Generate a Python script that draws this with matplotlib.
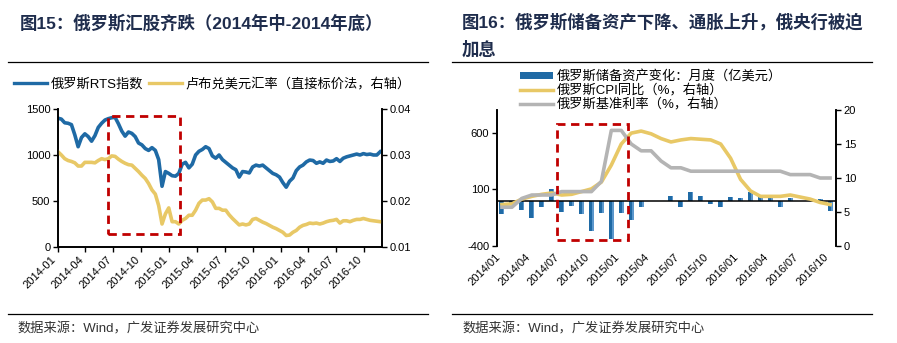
import matplotlib
matplotlib.use("Agg")
import matplotlib.pyplot as plt
import matplotlib.dates as mdates
from matplotlib.lines import Line2D
from matplotlib.patches import Rectangle, Patch
import numpy as np
import pandas as pd

plt.rcParams['font.family'] = ['Liberation Sans', 'Noto Sans CJK SC']
plt.rcParams['axes.unicode_minus'] = False

W, H = 897, 343
BLUE = '#1f6aa5'
BLUE_LIGHT = '#5b97cc'
YELLOW = '#e8c866'
GRAY = '#b4b4b4'
RED = '#c00000'
NAVY = '#1f2d4d'

# ---- left chart: RTS index and RUB/USD (read roughly every 11 days) ----
RTS_START = '2014-01-01'
RTS_STEP = '11D'
RTS_INDEX = [1400, 1390, 1350, 1345, 1330, 1220, 1090, 1190, 1230, 1200,
             1150, 1210, 1300, 1345, 1380, 1395, 1405, 1410, 1340, 1260,
             1205, 1250, 1235, 1200, 1130, 1110, 1070, 1050, 1080, 1050,
             950, 660, 820, 800, 775, 770, 800, 900, 920, 860,
             900, 1000, 1040, 1060, 1090, 1070, 990, 965, 1000, 950,
             920, 890, 860, 840, 760, 820, 815, 805, 870, 890,
             880, 890, 860, 830, 800, 785, 760, 700, 650, 715,
             750, 830, 870, 890, 925, 945, 940, 910, 925, 910,
             945, 930, 935, 960, 930, 965, 980, 990, 1000, 1010,
             1000, 1015, 1005, 1010, 1000, 1000, 1035]
RUB_USD = [0.0307, 0.0300, 0.0292, 0.0288, 0.0286, 0.0283, 0.0276, 0.0276, 0.0284, 0.0284,
           0.0284, 0.0283, 0.0288, 0.0292, 0.0290, 0.0292, 0.0298, 0.0297, 0.0291, 0.0286,
           0.0282, 0.0279, 0.0278, 0.0271, 0.0264, 0.0256, 0.0249, 0.0238, 0.0224, 0.0215,
           0.0190, 0.0150, 0.0172, 0.0185, 0.0155, 0.0155, 0.0150, 0.0158, 0.0162, 0.0169,
           0.0169, 0.0180, 0.0195, 0.0202, 0.0202, 0.0205, 0.0198, 0.0184, 0.0184, 0.0180,
           0.0180, 0.0170, 0.0162, 0.0155, 0.0148, 0.0150, 0.0148, 0.0150, 0.0160, 0.0162,
           0.0158, 0.0154, 0.0151, 0.0147, 0.0143, 0.0140, 0.0136, 0.0132, 0.0125, 0.0126,
           0.0132, 0.0136, 0.0143, 0.0147, 0.0149, 0.0152, 0.0151, 0.0152, 0.0150, 0.0152,
           0.0155, 0.0157, 0.0158, 0.0160, 0.0152, 0.0157, 0.0157, 0.0155, 0.0158, 0.0160,
           0.0160, 0.0162, 0.0160, 0.0158, 0.0157, 0.0156, 0.0155]
LEFT_TICKS = ['2014-01', '2014-04', '2014-07', '2014-10', '2015-01', '2015-04',
              '2015-07', '2015-10', '2016-01', '2016-04', '2016-07', '2016-10']

# ---- right chart: monthly reserves change, CPI, key rate ----
MONTH_FIRST, MONTH_LAST = '2014-01', '2016-10'
RESERVE_CHANGE = [-115, -25, -80, -150, -56, 100, -103, -48, -120, -270,
                  -105, -340, -106, -172, -52, 0, 0, 41, -58, 80,
                  42, -32, -58, 32, 24, 80, 53, 24, -58, 26,
                  0, 0, 18, -88]
CPI_YOY = [6.1, 6.2, 6.9, 7.3, 7.6, 7.8, 7.5, 7.6, 8.0, 8.4,
           9.4, 11.9, 15.0, 16.6, 16.9, 16.5, 15.8, 15.3, 15.6, 15.8,
           15.7, 15.6, 15.0, 12.9, 9.8, 8.1, 7.3, 7.3, 7.3, 7.5,
           7.2, 6.9, 6.4, 6.1]
KEY_RATE = [5.7, 5.7, 7.0, 7.5, 7.5, 7.5, 8.0, 8.0, 8.0, 8.0,
            9.5, 17.0, 17.0, 15.0, 14.0, 14.0, 12.5, 11.5, 11.5, 11.0,
            11.0, 11.0, 11.0, 11.0, 11.0, 11.0, 11.0, 11.0, 11.0, 10.5,
            10.5, 10.5, 10.0, 10.0]


def fig_rect(x0, y0, x1, y1):
    """pixel box (top-left origin) -> figure fraction rect"""
    return [x0 / W, 1 - y1 / H, (x1 - x0) / W, (y1 - y0) / H]


def hline(fig, x0, x1, y):
    fig.add_artist(Line2D([x0 / W, x1 / W], [1 - y / H, 1 - y / H],
                          transform=fig.transFigure, color='black', lw=0.9))


def style_ticks(ax):
    ax.tick_params(axis='both', direction='out', length=3.5, width=1,
                   labelsize=8, colors='black', pad=2)


def left_chart(fig):
    dates = pd.date_range(RTS_START, periods=len(RTS_INDEX), freq=RTS_STEP)
    ax = fig.add_axes(fig_rect(58, 109, 382, 247))
    axr = ax.twinx()

    ax.plot(dates, RTS_INDEX, color=BLUE, lw=2.6, solid_joinstyle='round')
    axr.plot(dates, RUB_USD, color=YELLOW, lw=2.6, solid_joinstyle='round')

    ax.set_xlim(pd.Timestamp('2014-01-01'), pd.Timestamp('2016-11-28'))
    ax.set_ylim(0, 1500)
    ax.set_yticks([0, 500, 1000, 1500])
    axr.set_ylim(0.01, 0.04)
    axr.set_yticks([0.01, 0.02, 0.03, 0.04])
    axr.yaxis.set_major_formatter(matplotlib.ticker.FormatStrFormatter('%.2f'))

    ticks = [pd.Timestamp(t + '-01') for t in LEFT_TICKS]
    ax.set_xticks(ticks)
    ax.set_xticklabels(LEFT_TICKS, rotation=45, ha='right')

    for a in (ax, axr):
        a.spines['top'].set_visible(False)
        for s in ('left', 'right', 'bottom'):
            a.spines[s].set_linewidth(1.2)
        style_ticks(a)

    # highlight box, mid-2014 to end-2014
    box = Rectangle((mdates.date2num(pd.Timestamp('2014-06-14')), 146),
                    mdates.date2num(pd.Timestamp('2015-02-05'))
                    - mdates.date2num(pd.Timestamp('2014-06-14')),
                    1427 - 146, transform=ax.transData, fill=False,
                    edgecolor=RED, lw=2, linestyle=(0, (3, 2)), zorder=5)
    axr.add_patch(box)

    handles = [Line2D([], [], color=BLUE, lw=2.4), Line2D([], [], color=YELLOW, lw=2.4)]
    labels = ['俄罗斯RTS指数', '卢布兑美元汇率（直接标价法，右轴）']
    fig.legend(handles, labels, loc='center left', bbox_to_anchor=(14 / W, 1 - 84 / H),
               ncol=2, frameon=False, fontsize=9.5, handlelength=2.5,
               handletextpad=0.3, columnspacing=0.4, borderpad=0, borderaxespad=0)


def right_chart(fig):
    months = pd.period_range(MONTH_FIRST, MONTH_LAST, freq='M').strftime('%Y/%m')
    x = np.arange(len(months))
    ax = fig.add_axes(fig_rect(497, 110, 836, 246))
    axr = ax.twinx()

    ax.bar(x, RESERVE_CHANGE, width=0.5, color=BLUE, zorder=2)
    ax.bar(x + 0.17, RESERVE_CHANGE, width=0.16, color=BLUE_LIGHT, zorder=2)
    ax.axhline(0, color='black', lw=1.1, zorder=3)
    axr.plot(x, CPI_YOY, color=YELLOW, lw=2.6)
    axr.plot(x, KEY_RATE, color=GRAY, lw=2.6)

    ax.set_xlim(-0.5, 33.6)
    ax.set_ylim(-400, 800)
    ax.set_yticks([-400, 100, 600])
    axr.set_ylim(0, 20)
    axr.set_yticks([0, 5, 10, 15, 20])

    ax.set_xticks(x[::3])
    ax.set_xticklabels(months[::3], rotation=45, ha='right')

    for a in (ax, axr):
        a.spines['top'].set_visible(False)
        a.spines['bottom'].set_visible(False)
        for s in ('left', 'right'):
            a.spines[s].set_linewidth(1.2)
        style_ticks(a)
    ax.tick_params(axis='x', length=0, pad=4)

    box = Rectangle((5.5, -347), 12.7 - 5.5, 677 + 347, transform=ax.transData,
                    fill=False, edgecolor=RED, lw=2, linestyle=(0, (3, 2)), zorder=5)
    axr.add_patch(box)

    handles = [Patch(facecolor=BLUE, edgecolor='none'),
               Line2D([], [], color=YELLOW, lw=2.5),
               Line2D([], [], color=GRAY, lw=2.5)]
    labels = ['俄罗斯储备资产变化：月度（亿美元）', '俄罗斯CPI同比（%，右轴）',
              '俄罗斯基准利率（%，右轴）']
    fig.legend(handles, labels, loc='upper left', bbox_to_anchor=(520 / W, 1 - 70 / H),
               frameon=False, fontsize=9.5, handlelength=2.5, handleheight=0.5,
               handletextpad=0.3, labelspacing=0.08, borderpad=0, borderaxespad=0)


def main():
    fig = plt.figure(figsize=(W / 100, H / 100), dpi=100)

    fig.text(20 / W, 1 - 23 / H, '图15：俄罗斯汇股齐跌（2014年中-2014年底）',
             fontsize=12.5, fontweight='bold', color=NAVY, va='center', ha='left')
    fig.text(462 / W, 1 - 22 / H, '图16：俄罗斯储备资产下降、通胀上升，俄央行被迫',
             fontsize=12.5, fontweight='bold', color=NAVY, va='center', ha='left')
    fig.text(462 / W, 1 - 49 / H, '加息',
             fontsize=12.5, fontweight='bold', color=NAVY, va='center', ha='left')

    hline(fig, 8, 428, 62)
    hline(fig, 452, 872, 62)
    hline(fig, 8, 428, 314)
    hline(fig, 452, 872, 314)

    left_chart(fig)
    right_chart(fig)

    src = '数据来源：Wind，广发证券发展研究中心'
    fig.text(17 / W, 1 - 329 / H, src, fontsize=9.5, color='#333333', va='center')
    fig.text(462 / W, 1 - 329 / H, src, fontsize=9.5, color='#333333', va='center')

    fig.savefig('out.png', dpi=100)


if __name__ == '__main__':
    main()
